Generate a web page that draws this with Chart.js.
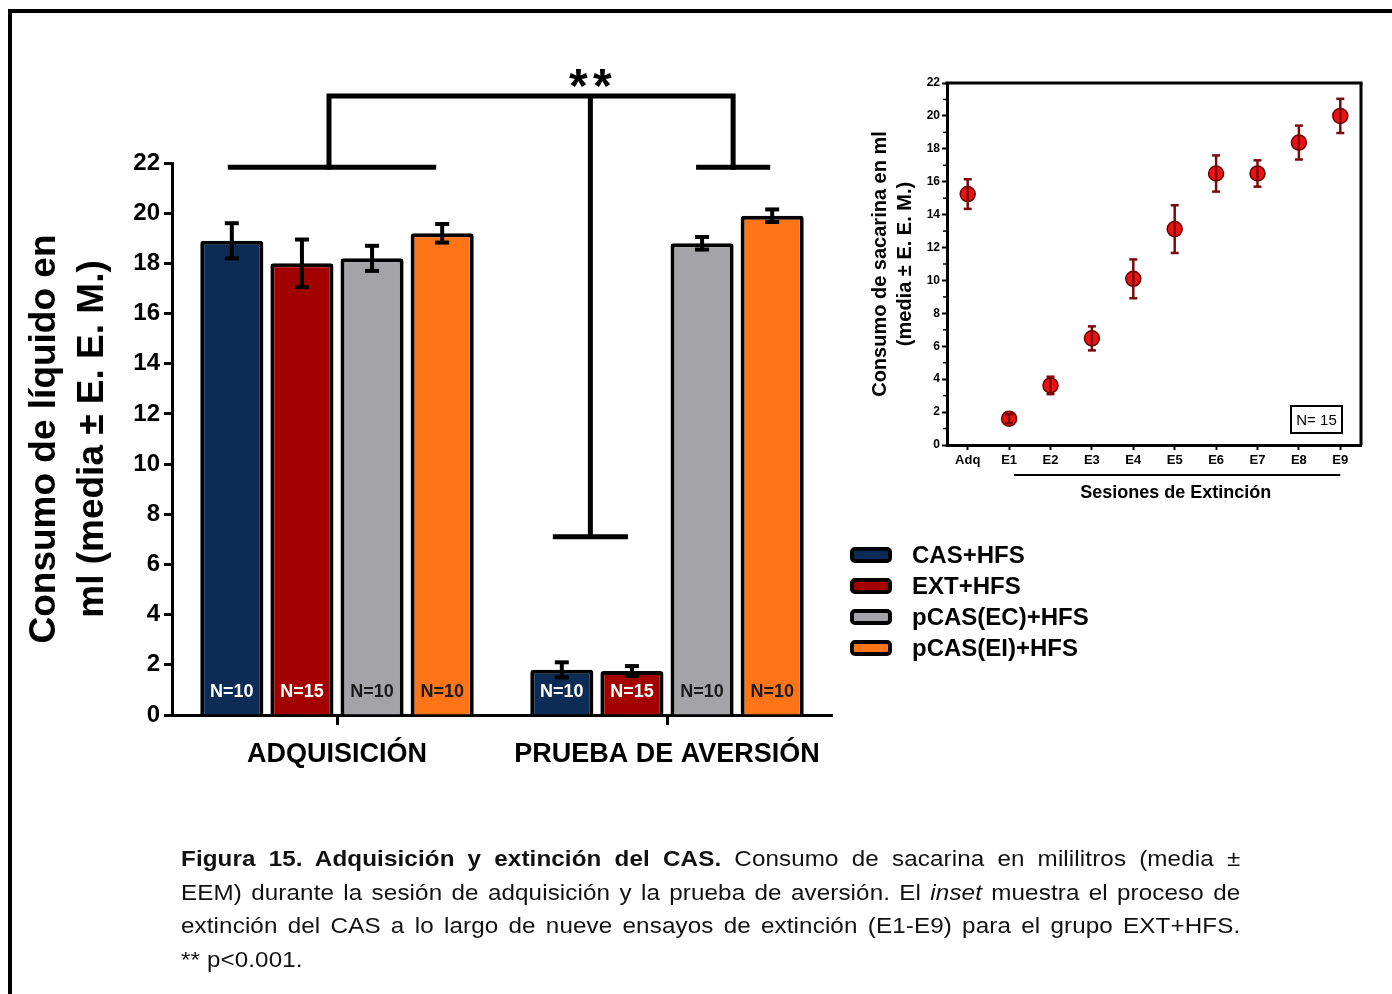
<!DOCTYPE html>
<html lang="es">
<head>
<meta charset="utf-8">
<title>Adquisición y extinción del CAS</title>
<script src="https://cdn.jsdelivr.net/npm/chart.js@4.4.1/dist/chart.umd.min.js"></script>
<style>
  html, body { margin: 0; padding: 0; background: #fff; }
  body { width: 1392px; height: 994px; position: relative; overflow: hidden; }
  #frame { position: absolute; left: 8px; top: 9px; width: 1500px; height: 1100px; border: 4px solid #000; box-sizing: border-box; }
  #main { position: absolute; left: 0; top: 0; }
  #inset { position: absolute; left: 860px; top: 70px; }
  #caption { position: absolute; left: 181px; top: 842px; width: 963px; transform: scaleX(1.1); transform-origin: 0 0; font-family: 'Liberation Sans', Arial, sans-serif; font-size: 22px; line-height: 33.7px; color: #111; letter-spacing: 0.1px; }
  #caption .j { text-align: justify; text-align-last: justify; white-space: nowrap; }
</style>
</head>
<body>
<div id="frame"></div>
<canvas id="main" width="1392" height="994"></canvas>
<canvas id="inset" width="520" height="440"></canvas>
<div id="caption">
  <div class="j"><b>Figura 15. Adquisición y extinción del CAS.</b> Consumo de sacarina en mililitros (media ±</div>
  <div class="j">EEM) durante la sesión de adquisición y la prueba de aversión. El <i>inset</i> muestra el proceso de</div>
  <div class="j">extinción del CAS a lo largo de nueve ensayos de extinción (E1-E9) para el grupo EXT+HFS.</div>
  <div>** p&lt;0.001.</div>
</div>
<script>
// ---- Main figure data: fluid intake (ml, mean ± SEM) per group and phase ----
const phases = ['ADQUISICIÓN', 'PRUEBA DE AVERSIÓN'];
const groups = ['CAS+HFS', 'EXT+HFS', 'pCAS(EC)+HFS', 'pCAS(EI)+HFS'];
const groupN = ['N=10', 'N=15', 'N=10', 'N=10'];
const casHfs = [18.9, 1.8];
const extHfs = [18.0, 1.75];
const pcasEc = [18.2, 18.8];
const pcasEi = [19.2, 19.9];
const casHfsSem = [0.7, 0.3];
const extHfsSem = [0.95, 0.2];
const pcasEcSem = [0.5, 0.25];
const pcasEiSem = [0.37, 0.25];
const yTicksMain = [0, 2, 4, 6, 8, 10, 12, 14, 16, 18, 20, 22];

// Significance bracket levels (ml on the y scale)
const bracketLow = 21.83;
const bracketTop = 24.67;
const bracketStem = 7.1;
const sigLabel = '**';

// ---- Inset data: EXT+HFS saccharin intake across extinction sessions ----
const sessions = ['Adq', 'E1', 'E2', 'E3', 'E4', 'E5', 'E6', 'E7', 'E8', 'E9'];
const sessionMeans = [15.25, 1.6, 3.62, 6.48, 10.1, 13.12, 16.5, 16.5, 18.38, 20.0];
const sessionSem = [0.9, 0.27, 0.53, 0.73, 1.18, 1.45, 1.1, 0.8, 1.03, 1.04];
const yTicksInset = [0, 2, 4, 6, 8, 10, 12, 14, 16, 18, 20, 22];
const insetN = 'N= 15';

const FONT = "'Liberation Sans', Arial, Helvetica, sans-serif";
const groupColors = ['#0c2c56', '#a30000', '#a4a3a8', '#ff7417'];
const groupLabelColors = ['#ffffff', '#ffffff', '#1a1a1a', '#1a1a1a'];
const seriesMeans = [casHfs, extHfs, pcasEc, pcasEi];
const seriesSem = [casHfsSem, extHfsSem, pcasEcSem, pcasEiSem];

Chart.defaults.font.family = FONT;
Chart.defaults.color = '#000';

function line(ctx, x1, y1, x2, y2) {
  ctx.beginPath(); ctx.moveTo(x1, y1); ctx.lineTo(x2, y2); ctx.stroke();
}

// Error bars, N labels, significance bracket and legend for the bar chart
const barExtras = {
  id: 'barExtras',
  afterDatasetsDraw(chart) {
    const ctx = chart.ctx;
    const y = chart.scales.y;
    const area = chart.chartArea;
    ctx.save();
    // group size labels inside bars
    ctx.font = `bold 18px ${FONT}`;
    ctx.textAlign = 'center';
    ctx.textBaseline = 'middle';
    chart.data.datasets.forEach((ds, i) => {
      const meta = chart.getDatasetMeta(i);
      meta.data.forEach(bar => {
        ctx.fillStyle = groupLabelColors[i];
        ctx.fillText(groupN[i], bar.x, area.bottom - 23);
      });
    });
    // error bars
    ctx.strokeStyle = '#000';
    ctx.lineWidth = 4;
    ctx.lineCap = 'butt';
    chart.data.datasets.forEach((ds, i) => {
      const meta = chart.getDatasetMeta(i);
      meta.data.forEach((bar, j) => {
        const m = seriesMeans[i][j], e = seriesSem[i][j];
        const yt = y.getPixelForValue(m + e), yb = y.getPixelForValue(m - e);
        line(ctx, bar.x, yt, bar.x, yb);
        line(ctx, bar.x - 7, yt, bar.x + 7, yt);
        line(ctx, bar.x - 7, yb, bar.x + 7, yb);
      });
    });
    ctx.restore();
  },
  afterDraw(chart) {
    const ctx = chart.ctx;
    const y = chart.scales.y;
    const area = chart.chartArea;
    const bx = (ds, j) => chart.getDatasetMeta(ds).data[j].x;
    ctx.save();
    ctx.strokeStyle = '#000';
    ctx.lineWidth = 5;
    ctx.lineCap = 'butt';
    const yLow = y.getPixelForValue(bracketLow);
    const yTop = y.getPixelForValue(bracketTop);
    const yStem = y.getPixelForValue(bracketStem);
    // over all acquisition bars
    const l1 = bx(0, 0) - 4, l2 = bx(3, 0) - 6;
    line(ctx, l1, yLow, l2, yLow);
    // over pCAS bars in the aversion test
    const r1 = bx(2, 1) - 6, r2 = bx(3, 1) - 2;
    line(ctx, r1, yLow, r2, yLow);
    // over CAS/EXT bars in the aversion test
    const m1 = bx(0, 1) - 9, m2 = bx(1, 1) - 4;
    line(ctx, m1, yStem, m2, yStem);
    const lx = (l1 + l2) / 2 - 3, rx = (r1 + r2) / 2, mx = (m1 + m2) / 2;
    ctx.beginPath();
    ctx.moveTo(lx, yLow + 2.5);
    ctx.lineTo(lx, yTop);
    ctx.lineTo(rx, yTop);
    ctx.lineTo(rx, yLow + 2.5);
    ctx.stroke();
    line(ctx, mx, yTop, mx, yStem);
    ctx.fillStyle = '#000';
    ctx.font = `bold 48px ${FONT}`;
    ctx.textAlign = 'center';
    ctx.textBaseline = 'alphabetic';
    ctx.fillText(sigLabel[0], mx - 12, yTop + 6);
    ctx.fillText(sigLabel[1], mx + 12, yTop + 6);

    // legend
    const lx0 = area.right + 20;
    ctx.font = `bold 24px ${FONT}`;
    ctx.textAlign = 'left';
    ctx.textBaseline = 'middle';
    groups.forEach((g, i) => {
      const cy = area.top + 392 + i * 31;
      ctx.beginPath();
      ctx.roundRect(lx0, cy - 6, 38, 12, 3);
      ctx.fillStyle = groupColors[i];
      ctx.fill();
      ctx.lineWidth = 4;
      ctx.strokeStyle = '#000';
      ctx.stroke();
      ctx.fillStyle = '#000';
      ctx.fillText(g, lx0 + 60, cy + 1);
    });
    ctx.restore();
  }
};

new Chart(document.getElementById('main'), {
  type: 'bar',
  data: {
    labels: phases,
    datasets: groups.map((g, i) => ({
      label: g,
      data: seriesMeans[i],
      backgroundColor: groupColors[i],
      borderColor: '#000',
      borderWidth: 4,
      borderRadius: 3,
      categoryPercentage: 0.85,
      barPercentage: 0.9
    }))
  },
  options: {
    responsive: false,
    animation: false,
    devicePixelRatio: 1,
    layout: { padding: { top: 163, left: 0, right: 560, bottom: 194 } },
    plugins: { legend: { display: false }, tooltip: { enabled: false } },
    scales: {
      x: {
        grid: { display: true, drawOnChartArea: false, offset: false, tickLength: 10, tickWidth: 3, tickColor: '#000' },
        border: { display: true, color: '#000', width: 3 },
        ticks: { color: '#000', font: { size: 27, weight: 'bold' }, padding: 13 },
        afterFit: s => { s.height = 85; }
      },
      y: {
        min: 0,
        max: 22,
        afterBuildTicks: s => { s.ticks = yTicksMain.map(v => ({ value: v })); },
        ticks: { color: '#000', font: { size: 24, weight: 'bold' }, padding: 4 },
        grid: { display: true, drawOnChartArea: false, tickLength: 8, tickWidth: 3, tickColor: '#000' },
        border: { display: true, color: '#000', width: 3 },
        title: {
          display: true,
          text: ['Consumo de líquido en', 'ml (media ± E. E. M.)'],
          color: '#000',
          font: { size: 37, weight: 'bold', lineHeight: 1.32 },
          padding: { top: 20, bottom: 0 }
        },
        afterFit: s => { s.width = 172; }
      }
    }
  },
  plugins: [barExtras]
});

// Error bars, frame, minor ticks, session bracket and N box for the inset
const insetExtras = {
  id: 'insetExtras',
  beforeDatasetsDraw(chart) {
    const ctx = chart.ctx;
    const a = chart.chartArea;
    const y = chart.scales.y;
    ctx.save();
    ctx.strokeStyle = '#000';
    ctx.lineWidth = 3;
    line(ctx, a.left - 1.5, a.top, a.right + 1.5, a.top);
    line(ctx, a.right, a.top, a.right, a.bottom);
    ctx.lineWidth = 1.5;
    for (let v = 1; v < 22; v += 2) {
      const py = y.getPixelForValue(v);
      line(ctx, a.left - 4, py, a.left, py);
    }
    ctx.restore();
  },
  afterDatasetsDraw(chart) {
    const ctx = chart.ctx;
    const a = chart.chartArea;
    const x = chart.scales.x, y = chart.scales.y;
    ctx.save();
    ctx.strokeStyle = '#7a0a0a';
    ctx.lineWidth = 2.5;
    sessionMeans.forEach((m, i) => {
      const px = x.getPixelForValue(i);
      const yt = y.getPixelForValue(m + sessionSem[i]), yb = y.getPixelForValue(m - sessionSem[i]);
      line(ctx, px, yt, px, yb);
      line(ctx, px - 4, yt, px + 4, yt);
      line(ctx, px - 4, yb, px + 4, yb);
    });
    // bracket under extinction sessions
    const x1 = x.getPixelForValue(1) + 5, x2 = x.getPixelForValue(9);
    ctx.strokeStyle = '#000';
    ctx.lineWidth = 2;
    line(ctx, x1, a.bottom + 30, x2, a.bottom + 30);
    ctx.fillStyle = '#000';
    ctx.font = `bold 18px ${FONT}`;
    ctx.textAlign = 'center';
    ctx.textBaseline = 'middle';
    ctx.fillText('Sesiones de Extinción', (x.getPixelForValue(1) + x2) / 2 + 1, a.bottom + 48);
    // N box
    const bw = 51, bh = 27;
    const bxr = a.right - 19 - bw, byt = a.bottom - 12 - bh;
    ctx.lineWidth = 2;
    ctx.strokeRect(bxr, byt, bw, bh);
    ctx.font = `15px ${FONT}`;
    ctx.fillText(insetN, bxr + bw / 2, byt + bh / 2 + 1);
    ctx.restore();
  }
};

new Chart(document.getElementById('inset'), {
  type: 'line',
  data: {
    labels: sessions,
    datasets: [{
      label: 'EXT+HFS',
      data: sessionMeans,
      showLine: false,
      pointRadius: 7.5,
      pointBackgroundColor: '#ee1111',
      pointBorderColor: '#6b0000',
      pointBorderWidth: 1.5
    }]
  },
  options: {
    responsive: false,
    animation: false,
    devicePixelRatio: 1,
    layout: { padding: { top: 13, left: 0, right: 19, bottom: 25 } },
    plugins: { legend: { display: false }, tooltip: { enabled: false } },
    scales: {
      x: {
        offset: true,
        grid: { display: true, drawOnChartArea: false, offset: false, tickLength: 5, tickWidth: 2, tickColor: '#000' },
        border: { display: true, color: '#000', width: 3 },
        ticks: { color: '#000', font: { size: 13, weight: 'bold' }, padding: 3 },
        afterFit: s => { s.height = 40; }
      },
      y: {
        min: 0,
        max: 22,
        afterBuildTicks: s => { s.ticks = yTicksInset.map(v => ({ value: v })); },
        ticks: { color: '#000', font: { size: 12, weight: 'bold' }, padding: 2 },
        grid: { display: true, drawOnChartArea: false, tickLength: 5, tickWidth: 2, tickColor: '#000' },
        border: { display: true, color: '#000', width: 3 },
        title: {
          display: true,
          text: ['Consumo de sacarina en ml', '(media ± E. E. M.)'],
          color: '#000',
          font: { size: 20, weight: 'bold', lineHeight: 1.25 },
          padding: { top: 8, bottom: 0 }
        },
        afterFit: s => { s.width = 87; }
      }
    }
  },
  plugins: [insetExtras]
});
</script>
</body>
</html>
